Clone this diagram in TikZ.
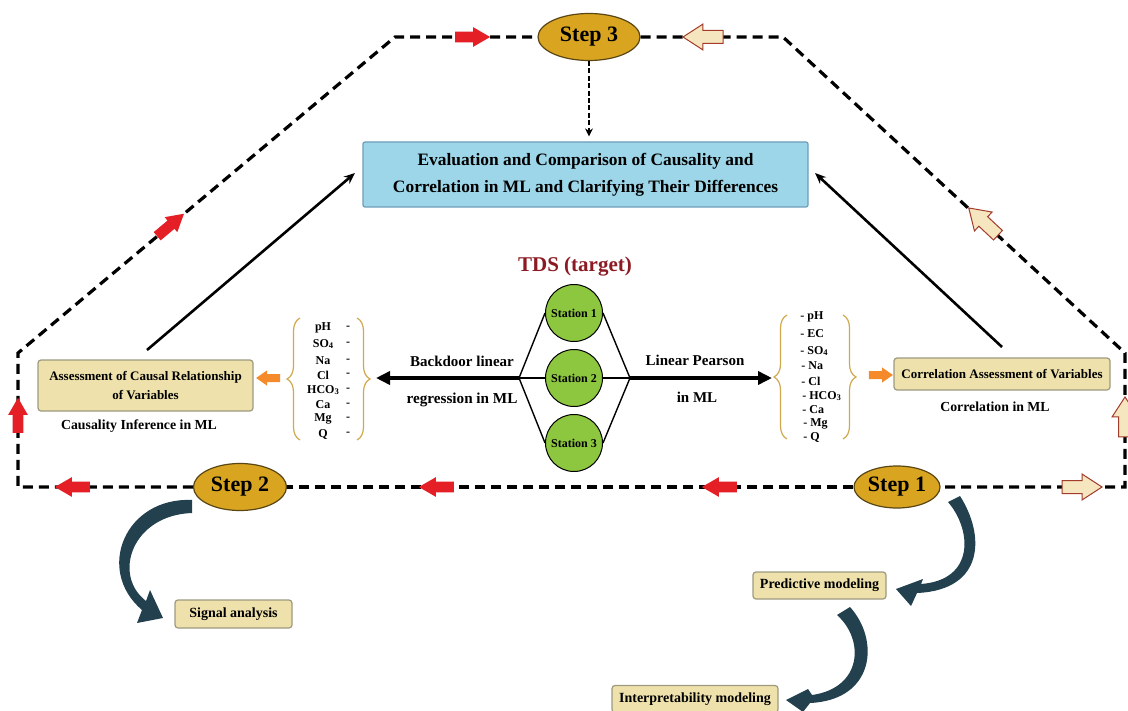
\documentclass[tikz,border=0pt]{standalone}
\usepackage{fontspec}
\setmainfont{Liberation Serif}
\usetikzlibrary{shapes.geometric,shapes.arrows,arrows.meta,decorations.pathreplacing}
\definecolor{stepgold}{HTML}{D9A521}
\definecolor{stepborder}{HTML}{5A4614}
\definecolor{tanfill}{HTML}{EEE1AB}
\definecolor{tanborder}{HTML}{9E9A80}
\definecolor{bluefill}{HTML}{9DD6E8}
\definecolor{blueborder}{HTML}{6E9DBB}
\definecolor{stationgreen}{HTML}{8DC63F}
\definecolor{arrred}{HTML}{E41F26}
\definecolor{creamfill}{HTML}{F5E6BF}
\definecolor{creamborder}{HTML}{A33B2A}
\definecolor{orangearr}{HTML}{F58A2A}
\definecolor{bracecol}{HTML}{CFA94E}
\definecolor{tealdark}{HTML}{22404E}
\definecolor{tdsred}{HTML}{8B1A23}
\newcommand\setfs[2]{\fontsize{#1}{#2}\selectfont\bfseries}
\newcommand\lowsub[1]{\raisebox{-0.4pt}{\fontsize{4.3}{5}\selectfont #1}}
\begin{document}
\begin{tikzpicture}[x=0.5pt,y=-0.5pt,
  dashpath/.style={line width=1.6pt, dash pattern=on 5pt off 3pt},
  stepdash/.style={line width=1pt, dash pattern=on 2.5pt off 1.2pt, -{Stealth[length=4pt,width=4pt]}},
  stepnode/.style={ellipse, draw=stepborder, fill=stepgold, line width=0.6pt, inner sep=0pt, font=\setfs{11}{12}},
  tanbox/.style={rectangle, rounded corners=1.5pt, draw=tanborder, fill=tanfill, line width=0.6pt, align=center, inner sep=1pt},
  bluebox/.style={rectangle, rounded corners=1pt, draw=blueborder, fill=bluefill, line width=0.6pt, align=center, inner sep=1pt, font=\setfs{8.7}{13.5}},
  station/.style={circle, draw=black, fill=stationgreen, line width=0.5pt, minimum size=28.5pt, inner sep=0pt, font=\setfs{6}{7}},
  stline/.style={line width=0.7pt},
  mainarrow/.style={line width=2pt, -{Triangle[length=7pt,width=6.5pt]}},
  diagarrow/.style={line width=1.3pt, -{Stealth[length=5.5pt,width=4.5pt]}},
  redarr/.style={single arrow, fill=arrred, draw=none, inner sep=2.5pt, single arrow head extend=2.2pt, single arrow tip angle=60, minimum height=17.5pt},
  creamarr/.style={single arrow, fill=creamfill, draw=creamborder, line width=0.5pt, inner sep=3pt, single arrow head extend=3.2pt, single arrow tip angle=66, minimum height=20pt},
  smallorange/.style={single arrow, fill=orangearr, draw=none, inner sep=1.8pt, single arrow head extend=1.8pt, single arrow tip angle=70, minimum height=12pt},
  bracepath/.style={draw=bracecol, line width=0.6pt, decorate, decoration={brace, amplitude=6.5pt}},
  listtxt/.style={inner sep=0pt, font=\setfs{6}{7}},
  lbl/.style={inner sep=0pt, align=center}
]
\clip (0,0) rectangle (1128,711);
\fill[white] (0,0) rectangle (1128,711);

% step ellipses
\node[stepnode, minimum width=51pt, minimum height=23.5pt] (s3) at (589,37) {Step 3};
\node[stepnode, minimum width=46.5pt, minimum height=23.5pt] (s2) at (240,487) {Step 2};
\node[stepnode, minimum width=43pt, minimum height=21pt] (s1) at (897,487) {Step 1};

% outer dashed loop
\coordinate (bl) at (18,487);
\coordinate (ml) at (18,353);
\coordinate (tl) at (395,37);
\coordinate (tr) at (783,37);
\coordinate (mr) at (1125,353);
\coordinate (br) at (1125,487);
\draw[dashpath] (s2.west) -- (bl) -- (ml) -- (tl) -- (s3.west);
\draw[dashpath] (s3.east) -- (tr) -- (mr) -- (br) -- (s1.east);
\draw[dashpath] (s1.west) -- (s2.east);

% block arrows on the loop
\node[redarr] (ra1) at (468,37) {};
\node[creamarr, rotate=180] (ca1) at (708,37) {};
\node[redarr, rotate=40] (ra2) at (167,228) {};
\node[creamarr, rotate=137] (ca2) at (987,225) {};
\node[redarr, rotate=90] (ra3) at (18,420) {};
\node[creamarr, rotate=90] (ca3) at (1125,422) {};
\node[redarr, rotate=180] (ra4) at (77,487) {};
\node[redarr, rotate=180] (ra5) at (441,487) {};
\node[redarr, rotate=180] (ra6) at (724,487) {};
\node[creamarr] (ca4) at (1077,487) {};

% evaluation box
\node[bluebox, minimum width=222.5pt, minimum height=32.5pt] (eval) at (585.5,174.5)
  {Evaluation and Comparison of Causality and\\Correlation in ML and Clarifying Their Differences};
\draw[stepdash] (s3.south) -- ([yshift=2.5pt]s3.south |- eval.north);

% TDS and stations
\node[lbl, text=tdsred, font=\setfs{10.5}{12}] (tds) at (575,267) {TDS (target)};
\node[station] (st1) at (574,313) {Station 1};
\node[station] (st2) at (574,378) {Station 2};
\node[station] (st3) at (574,443) {Station 3};
\coordinate (jl) at (519,378);
\coordinate (jr) at (630,378);
\draw[stline] (st1.west) -- (jl) -- (st3.west);
\draw[stline] (jl) -- (st2.west);
\draw[stline] (st1.east) -- (jr) -- (st3.east);
\draw[stline] (jr) -- (st2.east);

% braces
\coordinate (lb1a) at (300,440); \coordinate (lb1b) at (300,318);
\coordinate (lb2a) at (357,318); \coordinate (lb2b) at (357,440);
\coordinate (rb1a) at (787,439); \coordinate (rb1b) at (787,315);
\coordinate (rb2a) at (843,315); \coordinate (rb2b) at (843,439);
\draw[bracepath] (lb1a) -- (lb1b);
\draw[bracepath] (lb2a) -- (lb2b);
\draw[bracepath] (rb1a) -- (rb1b);
\draw[bracepath] (rb2a) -- (rb2b);

% main arrows
\coordinate (lbtip) at (376,378);
\coordinate (rbtip) at (772,378);
\draw[mainarrow] (jl) -- (lbtip);
\draw[mainarrow] (jr) -- (rbtip);
\node[lbl, font=\setfs{7.5}{9}] (bd1) at (462,361) {Backdoor linear};
\node[lbl, font=\setfs{7.6}{9}] (bd2) at (462,400) {regression in ML};
\node[lbl, font=\setfs{7.5}{9}] (lp1) at (695,360) {Linear Pearson};
\node[lbl, font=\setfs{7.5}{9}] (lp2) at (697,397) {in ML};

% left list
\foreach \t/\yy [count=\i] in {pH/328, {SO\lowsub{4}}/344, Na/361, Cl/375, {HCO\lowsub{3}}/390, Ca/405, Mg/419, Q/434}{
  \node[listtxt] (L\i) at (323,\yy) {\t};
  \node[listtxt] (Ld\i) at (348,\yy) {-};
}
% right list
\foreach \t/\yy/\xx [count=\i] in {pH/317/800, EC/334/800, {SO\lowsub{4}}/351/800, Na/366/801, Cl/381/801, {HCO\lowsub{3}}/396/802, Ca/410/802, Mg/424/803, Q/437/803}{
  \node[listtxt, anchor=west] (R\i) at (\xx,\yy) {- \t};
}

% side boxes
\node[smallorange, rotate=180] (oa1) at (271,378) {};
\node[smallorange] (oa2) at (878,375) {};
\node[tanbox, minimum width=107.5pt, minimum height=25.5pt, font=\setfs{6.5}{9.7}] (acr) at (145.5,385.5)
  {Assessment of Causal Relationship\\of Variables};
\node[lbl, font=\setfs{6.9}{8}] (cil) at (139,426) {Causality Inference in ML};
\node[tanbox, minimum width=108pt, minimum height=16pt, font=\setfs{6.5}{8}] (cav) at (1002,374)
  {Correlation Assessment of Variables};
\node[lbl, font=\setfs{6.9}{8}] (cml) at (995,407) {Correlation in ML};

% diagonal arrows to evaluation box
\coordinate (la0) at (147,350);
\coordinate (la1) at (355,173);
\coordinate (ra0) at (1002,347);
\coordinate (ra1x) at (815,173);
\draw[diagarrow] (la0) -- (la1);
\draw[diagarrow] (ra0) -- (ra1x);

% lower boxes
\node[tanbox, minimum width=58.5pt, minimum height=14pt, font=\setfs{7}{8}] (sig) at (233.5,614) {Signal analysis};
\node[tanbox, minimum width=66.5pt, minimum height=13.5pt, font=\setfs{7}{8}] (pred) at (819.5,585.5) {Predictive modeling};
\node[tanbox, minimum width=83pt, minimum height=13.5pt, font=\setfs{7}{8}] (interp) at (695,699) {Interpretability modeling};

% curved arrows
\fill[tealdark] (192,500) .. controls (125,497) and (95,570) .. (142,610)
  -- (137,623) -- (163,618) -- (150,590) -- (146,601)
  .. controls (112,575) and (132,515) .. (192,513) -- cycle;
\fill[tealdark] (960,496) .. controls (985,535) and (985,590) .. (917,593)
  -- (911,606) -- (896,589) -- (923,579) -- (921,584)
  .. controls (975,580) and (972,530) .. (948,502) -- cycle;
\fill[tealdark] (850,607) .. controls (880,640) and (875,700) .. (810,703)
  -- (803,712) -- (786,700) -- (808,689) -- (812,695)
  .. controls (862,688) and (865,640) .. (837,615) -- cycle;
\end{tikzpicture}
\end{document}
